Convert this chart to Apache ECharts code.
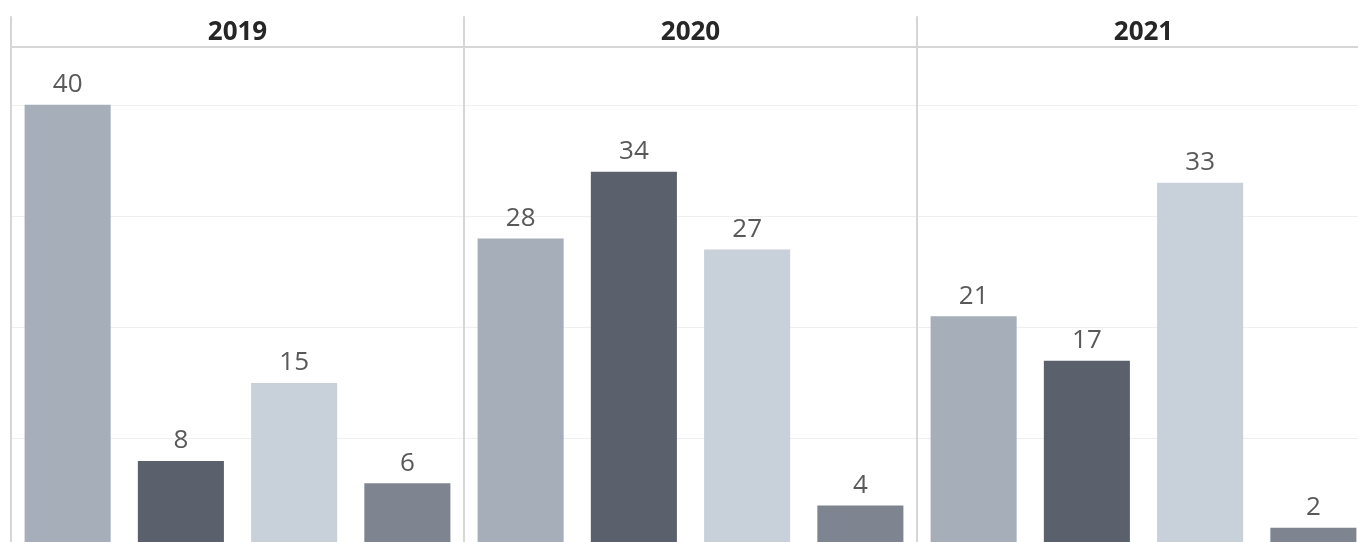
<!DOCTYPE html>
<html>
<head>
<meta charset="utf-8">
<style>
  html, body { margin: 0; padding: 0; background: #ffffff; overflow: hidden; width: 1358px; height: 542px; }
  #chart { width: 1380px; height: 560px; }
</style>
<script src="https://cdn.jsdelivr.net/npm/echarts@6/dist/echarts.min.js"></script>
</head>
<body>
<div id="chart"></div>
<script>
// Panel titles (one panel per year) and the four bars inside each panel
const years = ['2019', '2020', '2021'];
const groups = ['A', 'B', 'C', 'D'];
const values2019 = [40, 8, 15, 6];
const values2020 = [28, 34, 27, 4];
const values2021 = [21, 17, 33, 2];
const barColors = ['#a5aeb9', '#5a606c', '#c8d0da', '#7f8590'];
const yTicks = [0, 10, 20, 30, 40];

const panelValues = [values2019, values2020, values2021];

// Layout
const panelLeft = 11;
const panelWidth = 453;
const headerTop = 17;
const plotTop = 47;
const plotHeight = 503;
const yMax = 45.2;
const lineColor = '#d6d6d6';
const fontFamily = '"Open Sans", "Liberation Sans", sans-serif';

const grid = [], xAxis = [], yAxis = [], series = [];

years.forEach((year, i) => {
  const left = panelLeft + i * panelWidth;

  // header band holding the year title
  grid.push({ left: left, top: headerTop, width: panelWidth, height: plotTop - headerTop });
  // plot area
  grid.push({ left: left, top: plotTop, width: panelWidth, height: plotHeight });

  const hg = 2 * i, pg = 2 * i + 1;

  xAxis.push({
    gridIndex: hg, type: 'category', data: [year], position: 'bottom',
    axisLine: { show: true, lineStyle: { color: lineColor, width: 2 } },
    axisTick: { show: false },
    axisLabel: {
      inside: true, margin: 14, verticalAlign: 'middle',
      fontSize: 26, fontWeight: 'bold', color: '#262626', fontFamily: fontFamily
    }
  });
  yAxis.push({
    gridIndex: hg, type: 'value', min: 0, max: 1,
    axisLine: { show: true, lineStyle: { color: lineColor, width: 2 } },
    axisTick: { show: false }, axisLabel: { show: false }, splitLine: { show: false }
  });

  xAxis.push({
    gridIndex: pg, type: 'category', data: groups,
    axisLine: { show: false }, axisTick: { show: false }, axisLabel: { show: false }
  });
  yAxis.push({
    gridIndex: pg, type: 'value', min: yTicks[0], max: yMax, interval: yTicks[1] - yTicks[0],
    axisLine: { show: true, lineStyle: { color: lineColor, width: 2 } },
    axisTick: { show: false }, axisLabel: { show: false },
    splitLine: { show: true, showMaxLine: false, showMinLine: false, lineStyle: { color: '#efefef', width: 1 } }
  });

  series.push({
    type: 'bar',
    xAxisIndex: pg, yAxisIndex: pg,
    barWidth: '76%',
    data: panelValues[i].map((v, k) => ({ value: v, itemStyle: { color: barColors[k] } })),
    label: {
      show: true, position: 'top', distance: 7,
      fontSize: 26, color: '#595959', fontFamily: fontFamily
    },
    silent: true
  });
});

const chart = echarts.init(document.getElementById('chart'), null, { renderer: 'canvas' });
chart.setOption({
  animation: false,
  backgroundColor: '#ffffff',
  grid: grid,
  xAxis: xAxis,
  yAxis: yAxis,
  series: series
});
</script>
</body>
</html>
